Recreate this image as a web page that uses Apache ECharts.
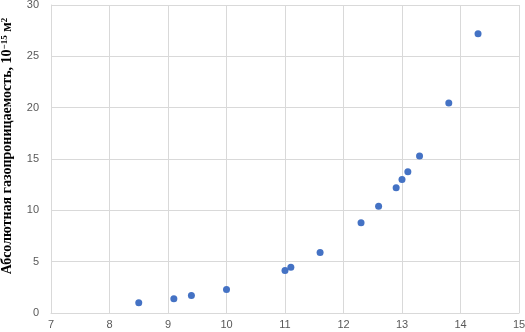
<!DOCTYPE html>
<html>
<head>
<meta charset="utf-8">
<script src="https://cdn.jsdelivr.net/npm/echarts@6/dist/echarts.min.js"></script>
<style>html,body{margin:0;padding:0;background:#fff}#c{width:525px;height:332px}</style>
</head>
<body>
<div id="c"></div>
<script>
const xValues = [8.5, 9.1, 9.4, 10.0, 11.0, 11.1, 11.6, 12.3, 12.6, 12.9, 13.0, 13.1, 13.3, 13.8, 14.3];
const yValues = [1.0, 1.4, 1.7, 2.3, 4.15, 4.45, 5.9, 8.8, 10.4, 12.2, 13.0, 13.75, 15.3, 20.45, 27.2];
const xTicks = [7, 8, 9, 10, 11, 12, 13, 14, 15];
const yTicks = [0, 5, 10, 15, 20, 25, 30];
const yTitle = '{b|Абсолютная газопроницаемость, 10}{s|−15}{b| м}{s|2}';

const chart = echarts.init(document.getElementById('c'), null, {renderer: 'canvas'});
const tickFont = {color: '#595959', fontSize: 11, fontFamily: 'Liberation Sans'};
chart.setOption({
  animation: false,
  grid: {left: 51, right: 6, top: 5, bottom: 19, containLabel: false, outerBoundsMode: 'none'},
  xAxis: {
    type: 'value', min: xTicks[0], max: xTicks[xTicks.length - 1], interval: 1,
    axisLine: {show: true, lineStyle: {color: '#d9d9d9'}},
    axisTick: {show: false},
    splitLine: {show: true, lineStyle: {color: '#d9d9d9'}},
    axisLabel: Object.assign({margin: 6}, tickFont)
  },
  yAxis: {
    type: 'value', min: yTicks[0], max: yTicks[yTicks.length - 1], interval: 5,
    axisLine: {show: true, lineStyle: {color: '#d9d9d9'}},
    axisTick: {show: false},
    splitLine: {show: true, lineStyle: {color: '#d9d9d9'}},
    axisLabel: Object.assign({margin: 12}, tickFont),
    name: yTitle,
    nameLocation: 'middle',
    nameGap: 37,
    nameTextStyle: {
      padding: [0, 0, 0, 26],
      rich: {
        b: {fontFamily: 'Liberation Serif', fontWeight: 'bold', fontSize: 14, color: '#000'},
        s: {fontFamily: 'Liberation Serif', fontWeight: 'bold', fontSize: 9, color: '#000', verticalAlign: 'top'}
      }
    }
  },
  series: [{
    type: 'scatter',
    data: xValues.map((x, i) => [x, yValues[i]]),
    symbol: 'circle',
    symbolSize: 7,
    itemStyle: {color: '#4472C4', opacity: 1}
  }]
});
</script>
</body>
</html>
